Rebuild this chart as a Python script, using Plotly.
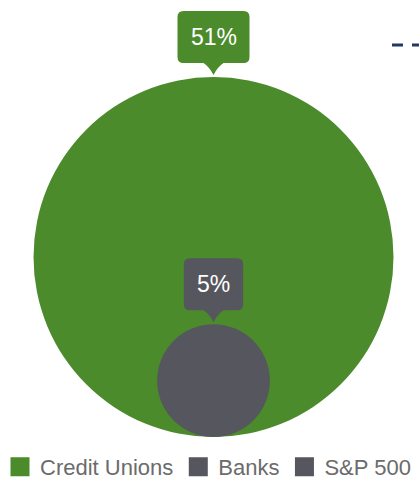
import math
import plotly.graph_objects as go

# ---- data ----
categories = ["Credit Unions", "Banks", "S&P 500"]
values = [51, 5, None]          # percent; S&P 500 bubble not shown
labels = ["51%", "5%", ""]
colors = ["#4B8B2B", "#56565E", "#56565E"]

# ---- layout geometry (pixels) ----
W, H = 419, 483
big_r_px = 180.0
cx_px = 213.5
base_px = 437.0
scale = big_r_px / math.sqrt(max(v for v in values if v is not None))  # px per unit

x_range = [-cx_px / scale, (W - cx_px) / scale]
y_range = [-(H - base_px) / scale, base_px / scale]

FONT = "Liberation Sans, Arial, sans-serif"

fig = go.Figure()

# legend entries
for name, col in zip(categories, colors):
    fig.add_trace(go.Scatter(
        x=[None], y=[None], mode="markers", name=name,
        marker=dict(symbol="square", size=16, color=col,
                    line=dict(color=col, width=3)),
        hoverinfo="skip",
    ))

shapes = []
annotations = []

def em_width(s):
    w = {"0": .556, "1": .556, "2": .556, "3": .556, "4": .556, "5": .556,
         "6": .556, "7": .556, "8": .556, "9": .556, "%": .889}
    return sum(w.get(ch, .556) for ch in s)

LBL_FS = 23
for v, lab, col in zip(values, labels, colors):
    if v is None:
        continue
    r = math.sqrt(v)
    shapes.append(dict(type="circle", xref="x", yref="y",
                       x0=-r, x1=r, y0=0, y1=2 * r,
                       fillcolor=col, line=dict(width=0), layer="above"))
    # callout bubble
    tip = 2
    bb = tip + 12
    bh = 52
    bt = bb + bh
    hw = (em_width(lab) * LBL_FS + 26) / 2
    rc = 6
    p = (f"M -10,{bb} Q -4,{bb-4} 0,{tip} Q 4,{bb-4} 10,{bb} "
         f"L {hw-rc},{bb} Q {hw},{bb} {hw},{bb+rc} "
         f"L {hw},{bt-rc} Q {hw},{bt} {hw-rc},{bt} "
         f"L {-hw+rc},{bt} Q {-hw},{bt} {-hw},{bt-rc} "
         f"L {-hw},{bb+rc} Q {-hw},{bb} {-hw+rc},{bb} Z")
    shapes.append(dict(type="path", xref="x", yref="y",
                       xsizemode="pixel", ysizemode="pixel",
                       xanchor=0, yanchor=2 * r, path=p,
                       fillcolor=col, line=dict(width=0), layer="above"))
    annotations.append(dict(x=0, y=2 * r, xref="x", yref="y",
                            text=lab, showarrow=False,
                            yshift=(bb + bt) / 2,
                            font=dict(family=FONT, size=LBL_FS, color="#FFFFFF")))

# decorative dashed line at top right
shapes.append(dict(type="line", xref="paper", yref="paper",
                   x0=392 / W, x1=1.05, y0=1 - 45 / H, y1=1 - 45 / H,
                   line=dict(color="#1F3A68", width=3, dash="11px,9px")))

fig.update_layout(
    width=W, height=H,
    margin=dict(l=0, r=0, t=0, b=0, autoexpand=False),
    paper_bgcolor="white", plot_bgcolor="white",
    xaxis=dict(visible=False, range=x_range, fixedrange=True),
    yaxis=dict(visible=False, range=y_range, fixedrange=True),
    shapes=shapes,
    annotations=annotations,
    showlegend=True,
    legend=dict(orientation="h", x=0, xanchor="left",
                y=(H - 467) / H, yanchor="middle",
                font=dict(family=FONT, size=22, color="#6B6B6B"),
                bgcolor="rgba(0,0,0,0)"),
)

fig.write_html("out.html")
